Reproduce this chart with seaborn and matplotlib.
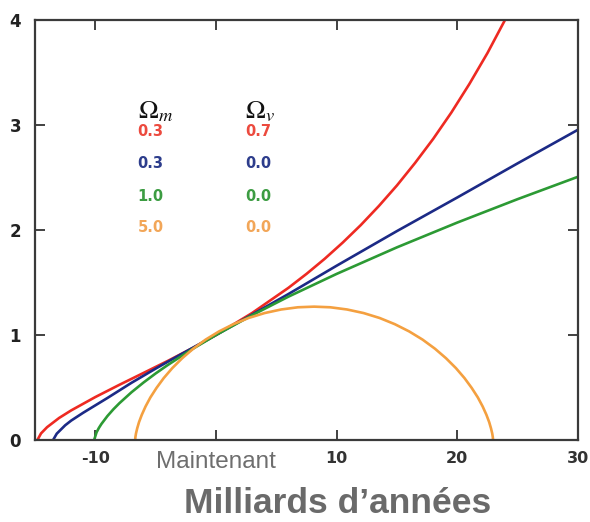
import matplotlib
matplotlib.use("Agg")
import matplotlib.pyplot as plt
import seaborn as sns
import pandas as pd

# ---- data ----
red_t = [-14.8, -14.5, -14.0, -13.0, -12.0, -10.0, -8.0, -6.0, -4.0, -2.0, 0.0, 3.0, 6.0, 7.5, 9.0,
         10.5, 12.0, 13.5, 15.0, 16.5, 18.0, 19.5, 21.0, 22.5, 24.0]
red_a = [0.0, 0.063, 0.122, 0.21, 0.282, 0.409, 0.526, 0.639, 0.753, 0.872, 1.0, 1.21, 1.449, 1.582, 1.725,
         1.88, 2.047, 2.229, 2.425, 2.639, 2.868, 3.118, 3.391, 3.686, 4.011]

blue_t = [-13.5, -13.2, -12.5, -12.0, -11.0, -10.0, -9.0, -7.0, -5.0, -3.0, -1.5, 0.0, 3.0, 6.0, 10.0, 15.0, 20.0, 25.0, 30.0]
blue_a = [0.0, 0.06, 0.14, 0.185, 0.26, 0.33, 0.40, 0.545, 0.68, 0.81, 0.905, 1.0, 1.195, 1.39, 1.66, 1.99, 2.31, 2.635, 2.955]

green_t = [-10.1, -9.9, -9.7, -9.5, -9.0, -8.5, -8.0, -7.0, -6.0, -5.0, -4.0, -2.0, 0.0, 3.0, 6.0, 10.0, 15.0, 20.0, 25.0, 30.0]
green_a = [0.0, 0.073, 0.116, 0.152, 0.228, 0.293, 0.351, 0.455, 0.548, 0.634, 0.714, 0.863, 1.0, 1.189, 1.365, 1.582, 1.835, 2.071, 2.294, 2.507]

orange_t = [-6.70, -6.68, -6.63, -6.53, -6.38, -6.15, -5.84, -5.44, -4.93, -4.33, -3.62, -2.80, -1.88, -0.86,
            0.25, 1.44, 2.70, 4.03, 5.40, 6.79, 8.13, 9.47, 10.86, 12.23, 13.56, 14.82, 16.01, 17.12, 18.14,
            19.06, 19.88, 20.59, 21.19, 21.70, 22.10, 22.41, 22.64, 22.79, 22.89, 22.94, 22.96]
orange_a = [0.0, 0.028, 0.063, 0.111, 0.170, 0.240, 0.319, 0.405, 0.496, 0.590, 0.685, 0.779, 0.870, 0.956,
            1.034, 1.103, 1.162, 1.209, 1.243, 1.264, 1.270, 1.264, 1.243, 1.209, 1.162, 1.103, 1.034, 0.956, 0.870,
            0.779, 0.685, 0.590, 0.496, 0.405, 0.319, 0.240, 0.170, 0.111, 0.063, 0.028, 0.0]

models = ["r", "b", "g", "o"]
omega_m = ["0.3", "0.3", "1.0", "5.0"]
omega_v = ["0.7", "0.0", "0.0", "0.0"]
line_colors = {"r": "#ee2a22", "b": "#1c2a86", "g": "#2c9a34", "o": "#f4a040"}
text_colors = ["#ec4a3e", "#2d3d8c", "#3c9c42", "#f2a658"]

x_ticks = [-10, 0, 10, 20, 30]
x_labels = ["-10", "Maintenant", "10", "20", "30"]
y_ticks = [0, 1, 2, 3, 4]

frames = []
for m, t, a in [("r", red_t, red_a), ("b", blue_t, blue_a), ("g", green_t, green_a), ("o", orange_t, orange_a)]:
    frames.append(pd.DataFrame({"t": t, "a": a, "model": m}))
df = pd.concat(frames, ignore_index=True)

# ---- plot ----
sns.set_theme(style="white")
plt.rcParams["font.family"] = ["DejaVu Sans"]
plt.rcParams["mathtext.fontset"] = "stix"

fig = plt.figure(figsize=(5.90, 5.22), dpi=100)
ax = fig.add_axes([35 / 590, 82 / 522, 543 / 590, 420 / 522])

sns.lineplot(data=df, x="t", y="a", hue="model", hue_order=models, palette=line_colors,
             estimator=None, sort=False, legend=False, linewidth=1.9, ax=ax)

ax.set_xlim(-15, 30)
ax.set_ylim(0, 4)

ax.set_xticks(x_ticks)
ax.set_xticklabels(x_labels)
ax.set_yticks(y_ticks)
ax.set_yticklabels([str(v) for v in y_ticks])

ax.tick_params(axis="both", direction="in", length=7, width=1.3, color="#333333",
               top=True, right=True, bottom=True, left=True)
ax.tick_params(axis="y", pad=10, labelsize=12, labelcolor="#222222")
ax.tick_params(axis="x", pad=8, labelsize=11.5, labelcolor="#333333")
for lab in ax.get_yticklabels():
    lab.set_fontweight("bold")
for i, lab in enumerate(ax.get_xticklabels()):
    if x_labels[i] == "Maintenant":
        lab.set_fontfamily(["Liberation Sans", "DejaVu Sans"])
        lab.set_fontsize(17.5)
        lab.set_color("#6e6e6e")
        lab.set_fontweight("normal")
    else:
        lab.set_fontweight("bold")

for s in ax.spines.values():
    s.set_visible(True)
    s.set_color("#3a3a3a")
    s.set_linewidth(1.6)

ax.set_xlabel("Milliards d\u2019années", fontsize=25.5, fontweight="bold", color="#6a6a6a",
              family=["Liberation Sans", "DejaVu Sans"])
ax.xaxis.set_label_coords(0.558, -0.112)
ax.set_ylabel("")

# header + value table
ax.text(-6.5, 3.06, r"$\Omega_m$", fontsize=19, color="#111111", ha="left", va="baseline")
ax.text(2.4, 3.06, r"$\Omega_v$", fontsize=19, color="#111111", ha="left", va="baseline")
row_y = [2.94, 2.63, 2.32, 2.02]
for i in range(len(models)):
    ax.text(-6.5, row_y[i], omega_m[i], color=text_colors[i], fontsize=10.5, fontweight="bold",
            ha="left", va="center")
    ax.text(2.4, row_y[i], omega_v[i], color=text_colors[i], fontsize=10.5, fontweight="bold",
            ha="left", va="center")

fig.savefig("out.png", dpi=100)
